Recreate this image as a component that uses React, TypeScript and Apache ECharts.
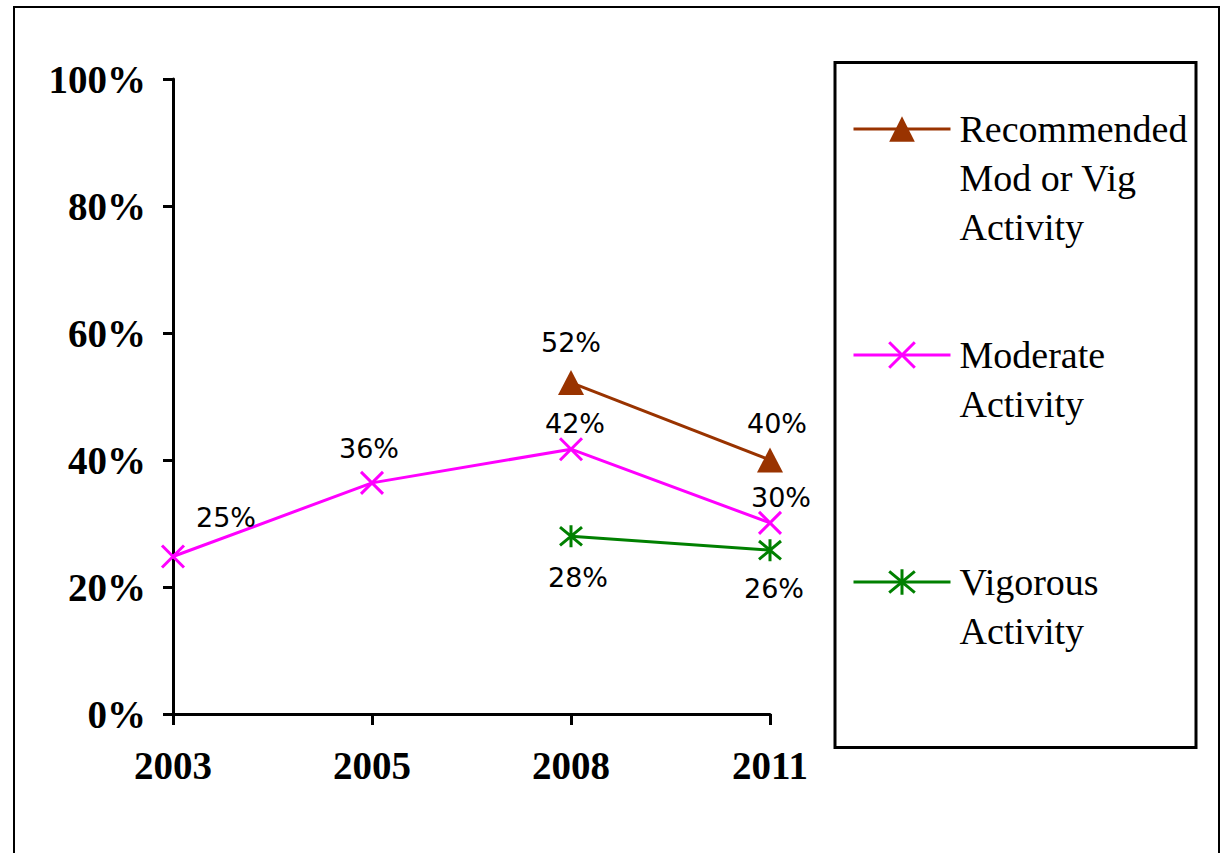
import React, { useEffect, useRef } from 'react';
import * as echarts from 'echarts';

const years = ['2003', '2005', '2008', '2011'];
const recommendedValues: (number | null)[] = [null, null, 52.2, 40.0];
const moderateValues: (number | null)[] = [24.8, 36.4, 41.7, 30.1];
const vigorousValues: (number | null)[] = [null, null, 28.0, 25.8];
const yMin = 0;
const yMax = 100;
const yStep = 20;

const seriesNames = ['Recommended Mod or Vig Activity', 'Moderate Activity', 'Vigorous Activity'];
const legendLines = [
  ['Recommended', 'Mod or Vig', 'Activity'],
  ['Moderate', 'Activity'],
  ['Vigorous', 'Activity'],
];

const colors = ['#993300', '#FF00FF', '#008000'];
const symbols = [
  'triangle',
  'path://M0,0L10,10M10,0L0,10',
  'path://M0,1L10,11M10,1L0,11M5,0L5,12',
];
const symbolSizes: any[] = [[26, 25], 22, 22];
const labelOffsets: (number[] | null)[][] = [
  [null, null, [0, -40], [7, -37]],
  [[53, -39], [-3, -34], [4, -26], [11, -25]],
  [null, null, [7, 41], [4, 38]],
];
const legendIconCenters = [129, 355, 582];
const LH = 49;

export default function App() {
  const ref = useRef<HTMLDivElement>(null);
  useEffect(() => {
    if (!ref.current) return;
    const chart = echarts.init(ref.current, null, { renderer: 'svg' });
    const valueSets = [recommendedValues, moderateValues, vigorousValues];

    const series = valueSets.map((vals, si) => ({
      name: seriesNames[si],
      type: 'line',
      color: colors[si],
      symbol: symbols[si],
      symbolSize: symbolSizes[si],
      showAllSymbol: true,
      lineStyle: { width: 3, color: colors[si] },
      itemStyle: {
        color: si === 0 ? colors[si] : 'none',
        borderColor: colors[si],
        borderWidth: si === 0 ? 0 : 3,
      },
      emphasis: { disabled: true },
      data: vals.map((v, i) =>
        v === null
          ? null
          : {
              value: v,
              label: {
                show: true,
                position: 'inside',
                offset: labelOffsets[si][i] || [0, 0],
                align: 'center',
                verticalAlign: 'middle',
                formatter: () => Math.round(v) + '%',
                fontFamily: 'DejaVu Sans',
                fontSize: 27,
                color: '#000',
              },
            }
      ),
    }));

    const legends = seriesNames.map((name, si) => {
      const n = legendLines[si].length;
      const blanks = Array(n - 1).fill(' ');
      return {
        show: true,
        orient: 'vertical',
        left: 852,
        top: legendIconCenters[si] - ((2 * n - 1) * LH) / 2,
        padding: 0,
        itemWidth: 97,
        itemHeight: 32,
        selectedMode: false,
        itemStyle: { borderWidth: si === 0 ? 0 : 3 },
        lineStyle: { width: 3 },
        formatter: () => blanks.concat(legendLines[si]).join('\n'),
        textStyle: {
          fontFamily: 'Liberation Serif',
          fontSize: 38,
          lineHeight: LH,
          color: '#000',
          padding: [0, 0, 0, 4],
        },
        data: [name],
      };
    });

    chart.setOption({
      animation: false,
      backgroundColor: '#fff',
      grid: { left: 173, right: 454, top: 79, bottom: 139 },
      legend: legends,
      xAxis: {
        type: 'category',
        data: years,
        boundaryGap: false,
        axisLine: { lineStyle: { color: '#000', width: 3 } },
        axisTick: { show: true, length: 11, lineStyle: { color: '#000', width: 3 } },
        axisLabel: {
          margin: 32,
          fontFamily: 'Liberation Serif',
          fontWeight: 'bold',
          fontSize: 39,
          color: '#000',
        },
        splitLine: { show: false },
      },
      yAxis: {
        type: 'value',
        min: yMin,
        max: yMax,
        interval: yStep,
        axisLine: { show: true, lineStyle: { color: '#000', width: 3 } },
        axisTick: { show: true, length: 10, lineStyle: { color: '#000', width: 3 } },
        axisLabel: {
          margin: 27,
          formatter: '{value}%',
          fontFamily: 'Liberation Serif',
          fontWeight: 'bold',
          fontSize: 39,
          color: '#000',
        },
        splitLine: { show: false },
      },
      graphic: [
        {
          type: 'rect',
          shape: { x: 14, y: 7, width: 1205, height: 900 },
          style: { fill: 'none', stroke: '#000', lineWidth: 2 },
          silent: true,
        },
        {
          type: 'rect',
          shape: { x: 835, y: 62.5, width: 361, height: 685 },
          style: { fill: 'none', stroke: '#000', lineWidth: 3 },
          silent: true,
        },
      ],
      series,
    });
    return () => chart.dispose();
  }, []);
  return (
    <div
      ref={ref}
      style={{ position: 'absolute', left: 0, top: 0, width: 1224, height: 853, background: '#fff' }}
    />
  );
}
